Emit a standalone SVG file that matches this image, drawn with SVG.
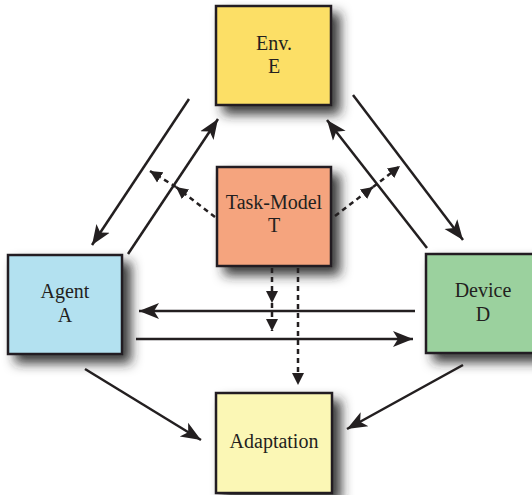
<svg xmlns="http://www.w3.org/2000/svg" width="532" height="495" viewBox="0 0 532 495">
<style>
.box{stroke:#231f20;stroke-width:2.5;filter:url(#sh)}
.lbl{font-family:"Liberation Serif","DejaVu Serif",serif;font-size:20px;fill:#231f20;text-anchor:middle}
.ln{stroke:#231f20;stroke-width:2.5;fill:none;marker-end:url(#ah)}
.dl{stroke:#231f20;stroke-width:2.5;fill:none;stroke-dasharray:5 4;marker-end:url(#dh)}
</style>
<defs>
<filter id="sh" x="-30%" y="-30%" width="170%" height="170%">
<feDropShadow dx="8" dy="8" stdDeviation="6" flood-color="#222222" flood-opacity="0.9"/>
</filter>
<marker id="ah" markerUnits="userSpaceOnUse" markerWidth="24" markerHeight="20" refX="20" refY="8" orient="auto" viewBox="0 0 24 16">
<path d="M20,8 L0,0 L5,8 L0,16 Z" fill="#231f20"/>
</marker>
<marker id="dh" markerUnits="userSpaceOnUse" markerWidth="14" markerHeight="14" refX="12" refY="6" orient="auto" viewBox="0 0 14 12">
<path d="M12,6 L0,0 L0,12 Z" fill="#231f20"/>
</marker>
</defs>
<rect width="532" height="495" fill="#ffffff"/>
<g id="env"><rect class="box" x="216" y="6" width="115" height="99" fill="#fcdf66"/><text class="lbl" x="274" y="50">Env.</text><text class="lbl" x="274" y="73">E</text></g>
<g id="task"><rect class="box" x="217" y="167" width="114" height="99" fill="#f5a47e"/><text class="lbl" x="274" y="209">Task-Model</text><text class="lbl" x="274" y="232">T</text></g>
<g id="agent"><rect class="box" x="8" y="255" width="114" height="99" fill="#b3e1f0"/><text class="lbl" x="65" y="298">Agent</text><text class="lbl" x="65" y="322">A</text></g>
<g id="device"><rect class="box" x="426" y="254" width="114" height="99" fill="#9bd19e"/><text class="lbl" x="483" y="297">Device</text><text class="lbl" x="483" y="321">D</text></g>
<g id="adaptation"><rect class="box" x="216" y="393" width="116" height="100" fill="#fbf7b5"/><text class="lbl" x="274" y="448">Adaptation</text></g>
<g id="connectors">
<line class="ln" x1="189" y1="99" x2="92" y2="245"/>
<line class="ln" x1="128" y1="254" x2="218" y2="119"/>
<line class="ln" x1="353" y1="95" x2="463" y2="240"/>
<line class="ln" x1="427" y1="248" x2="327" y2="120"/>
<line class="ln" x1="415" y1="311" x2="139" y2="311"/>
<line class="ln" x1="136" y1="339" x2="413" y2="339"/>
<line class="ln" x1="85" y1="369" x2="201" y2="440"/>
<line class="ln" x1="463" y1="365" x2="347" y2="429"/>
<line class="dl" x1="215" y1="217" x2="176" y2="187"/>
<line class="dl" x1="176" y1="187" x2="150" y2="171"/>
<line class="dl" x1="335" y1="216" x2="373" y2="187"/>
<line class="dl" x1="373" y1="187" x2="400" y2="166"/>
<line class="dl" x1="272" y1="268" x2="272" y2="303"/>
<line class="dl" x1="272" y1="303" x2="272" y2="331"/>
<line class="dl" x1="298" y1="268" x2="298" y2="385"/>
</g>
</svg>
